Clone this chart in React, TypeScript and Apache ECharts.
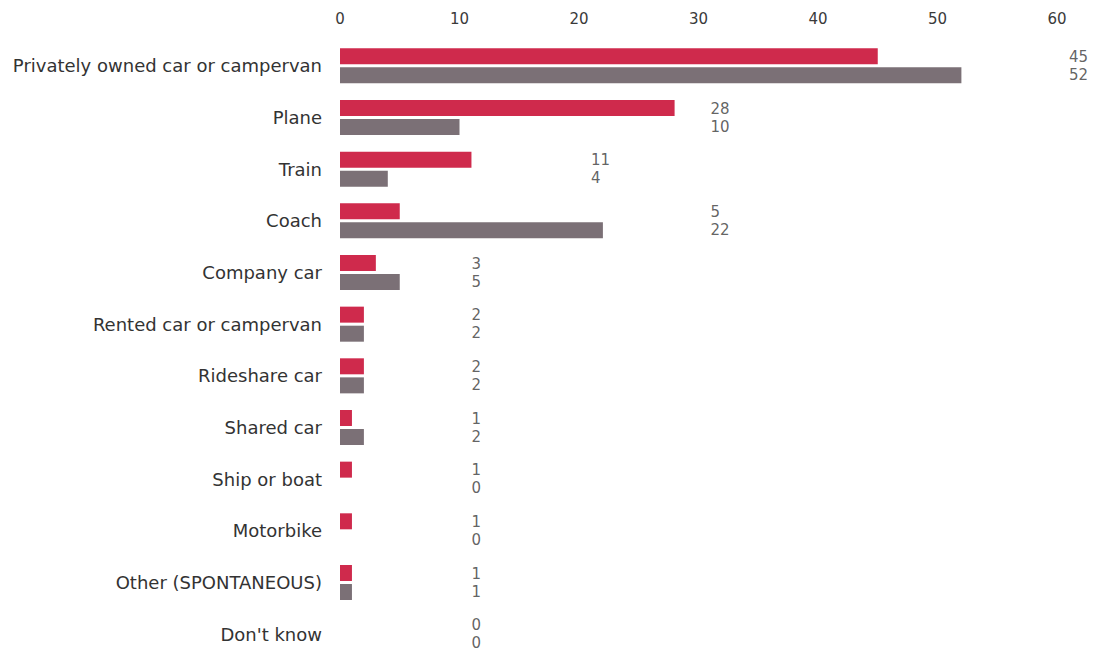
import React, { useEffect, useRef } from "react";
import * as echarts from "echarts";

const categories = [
  "Privately owned car or campervan",
  "Plane",
  "Train",
  "Coach",
  "Company car",
  "Rented car or campervan",
  "Rideshare car",
  "Shared car",
  "Ship or boat",
  "Motorbike",
  "Other (SPONTANEOUS)",
  "Don't know",
];
const redValues = [45, 28, 11, 5, 3, 2, 2, 1, 1, 1, 1, 0];
const grayValues = [52, 10, 4, 22, 5, 2, 2, 2, 0, 0, 1, 0];
const xTicks = [0, 10, 20, 30, 40, 50, 60];

const RED = "#CF2A4C";
const GRAY = "#7B7076";
const FONT = "DejaVu Sans";

export default function App() {
  const ref = useRef<HTMLDivElement>(null);
  useEffect(() => {
    if (!ref.current) return;
    const chart = echarts.init(ref.current, undefined, { renderer: "svg" });
    const anchor = categories.map((_, i) =>
      Math.max(11, Math.ceil(Math.max(redValues[i], grayValues[i]) / 10) * 10 + 1)
    );
    const labelSeries = (vals: number[], dy: number) => ({
      type: "scatter",
      symbolSize: 0,
      silent: true,
      clip: false,
      data: categories.map((c, i) => [anchor[i], c, vals[i]]),
      label: {
        show: true,
        position: "right",
        distance: 0,
        offset: [0, dy],
        formatter: (p: any) => String(p.value[2]),
        fontFamily: FONT,
        fontSize: 15,
        color: "#3a3a3a",
      },
    });
    chart.setOption({
      animation: false,
      backgroundColor: "#ffffff",
      grid: { left: 340, right: 44, top: 40, bottom: 12, containLabel: false },
      xAxis: {
        type: "value",
        position: "top",
        min: xTicks[0],
        max: xTicks[xTicks.length - 1],
        interval: 10,
        axisLine: { show: false },
        axisTick: { show: false },
        splitLine: { show: false },
        axisLabel: { fontFamily: FONT, fontSize: 15, color: "#3a3a3a", margin: 14 },
      },
      yAxis: {
        type: "category",
        inverse: true,
        data: categories,
        axisLine: { show: false },
        axisTick: { show: false },
        axisLabel: { fontFamily: FONT, fontSize: 18, color: "#333333", margin: 18 },
      },
      series: [
        {
          type: "bar",
          data: redValues,
          barWidth: 16,
          barGap: "19%",
          itemStyle: { color: RED },
        },
        {
          type: "bar",
          data: grayValues,
          barWidth: 16,
          barGap: "19%",
          itemStyle: { color: GRAY },
        },
        labelSeries(redValues, -9),
        labelSeries(grayValues, 9),
      ],
    });
    return () => chart.dispose();
  }, []);
  return (
    <div
      style={{
        position: "absolute",
        left: 0,
        top: 0,
        width: 1101,
        height: 648,
        overflow: "hidden",
        background: "#ffffff",
      }}
    >
      <div ref={ref} style={{ width: 1101, height: 672 }} />
    </div>
  );
}
